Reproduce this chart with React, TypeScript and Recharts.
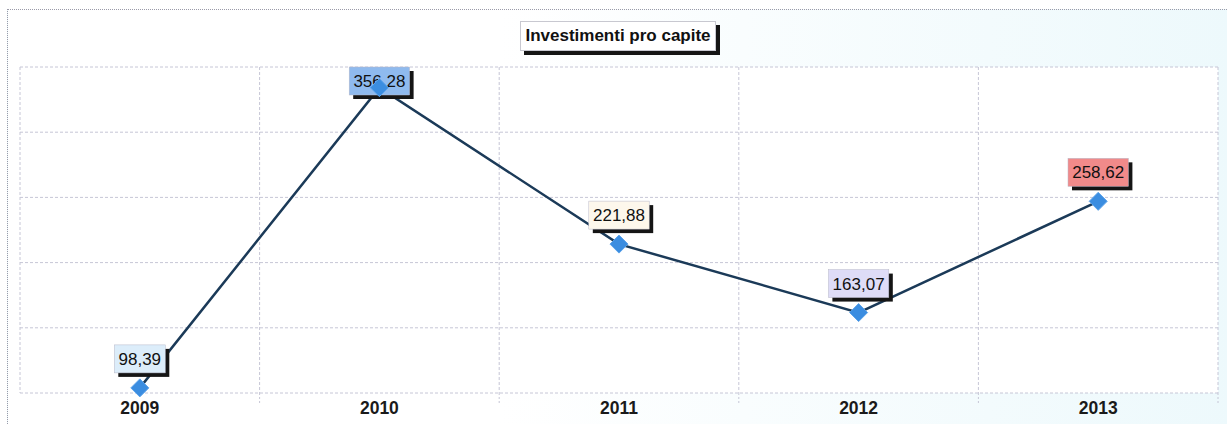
import { LineChart, Line, XAxis, YAxis, CartesianGrid, LabelList } from "recharts";

// values
const years = ["2009", "2010", "2011", "2012", "2013"];
const investimenti = [98.39, 356.28, 221.88, 163.07, 258.62];
const yDomain = [94, 374];

// label box colours, one per point
const labelFills = ["#dcedfa", "#8fbaee", "#fdf7ec", "#dedcf7", "#f18a8a"];

const W = 1227;
const H = 424;
const M = { top: 67, right: 9, bottom: 0, left: 20 };
const PLOT_W = W - M.left - M.right;
const BAND = PLOT_W / years.length;

const data = years.map((year, i) => ({ year, value: investimenti[i] }));

const fmt = (v: number) => v.toFixed(2).replace(".", ",");

const gridStroke = "#c6c6d6";

const YearTick = (props: any) => {
  const { x, y, payload, index } = props;
  const bx = x - BAND / 2;
  return (
    <g>
      {index > 0 && (
        <line x1={bx} x2={bx} y1={y} y2={y + 12} stroke={gridStroke} strokeDasharray="2 2" />
      )}
      {index === years.length - 1 && (
        <line x1={x + BAND / 2} x2={x + BAND / 2} y1={y} y2={y + 12} stroke={gridStroke} strokeDasharray="2 2" />
      )}
      <text
        x={x}
        y={y + 21}
        textAnchor="middle"
        fontFamily="'Liberation Sans', Arial, sans-serif"
        fontWeight="bold"
        fontSize={17.5}
        fill="#1a1a1a"
      >
        {payload.value}
      </text>
    </g>
  );
};

const diamondPoints = (cx: number, cy: number, r: number) =>
  `${cx},${cy - r} ${cx + r},${cy} ${cx},${cy + r} ${cx - r},${cy}`;

// label box with shadow, marker drawn on top of it (as in the original)
const ValueLabel = (props: any) => {
  const { x, y, value, index } = props;
  const text = fmt(value);
  const w = text.length * 9.4 + 4;
  const h = 28;
  let top = y - 15 - h;
  if (top < M.top) top = M.top; // keep box inside plot
  const left = x - w / 2;
  return (
    <g>
      <rect x={left + 4} y={top + 4} width={w} height={h} fill="#151515" />
      <rect x={left} y={top} width={w} height={h} fill={labelFills[index]} stroke="#b8b8c8" strokeWidth={0.5} />
      <text
        x={x}
        y={top + h / 2 + 6}
        textAnchor="middle"
        fontFamily="'Liberation Sans', Arial, sans-serif"
        fontSize={17}
        fill="#111"
      >
        {text}
      </text>
      <polygon points={diamondPoints(x, y, 9)} fill="#3b8de0" stroke="#5aa2ea" strokeWidth={1} />
    </g>
  );
};

export default function App() {
  return (
    <div style={{ position: "absolute", left: 0, top: 0, width: W, height: H, background: "#fff", overflow: "hidden" }}>
      <div
        style={{
          position: "absolute",
          left: 7,
          top: 9,
          width: W,
          height: H,
          borderLeft: "1px dotted #9a9aa8",
          borderTop: "1px dotted #9a9aa8",
          background: "linear-gradient(90deg, #ffffff 0%, #ffffff 40%, #edf9fc 100%)",
        }}
      />
      <LineChart
        width={W}
        height={H}
        data={data}
        margin={M}
        style={{ position: "absolute", left: 0, top: 0 }}
      >
        <CartesianGrid
          fill="#ffffff"
          stroke={gridStroke}
          strokeDasharray="3 2"
          verticalCoordinatesGenerator={({ offset }: any) =>
            years.map((_, i) => offset.left + i * (offset.width / years.length)).concat(offset.left + offset.width)
          }
          horizontalCoordinatesGenerator={({ offset }: any) =>
            [0, 1, 2, 3, 4, 5].map((i) => offset.top + (i * offset.height) / 5)
          }
        />
        <XAxis
          dataKey="year"
          scale="band"
          height={31}
          axisLine={false}
          tickLine={false}
          tickSize={0}
          tickMargin={0}
          interval={0}
          tick={<YearTick />}
        />
        <YAxis hide domain={yDomain} type="number" />
        <Line
          dataKey="value"
          stroke="#1b3a58"
          strokeWidth={2.5}
          dot={false}
          activeDot={false}
          isAnimationActive={false}
        >
          <LabelList dataKey="value" content={<ValueLabel />} />
        </Line>
      </LineChart>
      <div
        style={{
          position: "absolute",
          left: 520,
          top: 21,
          width: 194,
          height: 28,
          background: "#fff",
          border: "1px solid #c8c8d0",
          boxShadow: "4px 4px 0 #151515",
          display: "flex",
          alignItems: "center",
          justifyContent: "center",
          fontFamily: "'Liberation Sans', Arial, sans-serif",
          fontWeight: "bold",
          fontSize: 17,
          color: "#111",
          whiteSpace: "nowrap",
        }}
      >
        Investimenti pro capite
      </div>
    </div>
  );
}
